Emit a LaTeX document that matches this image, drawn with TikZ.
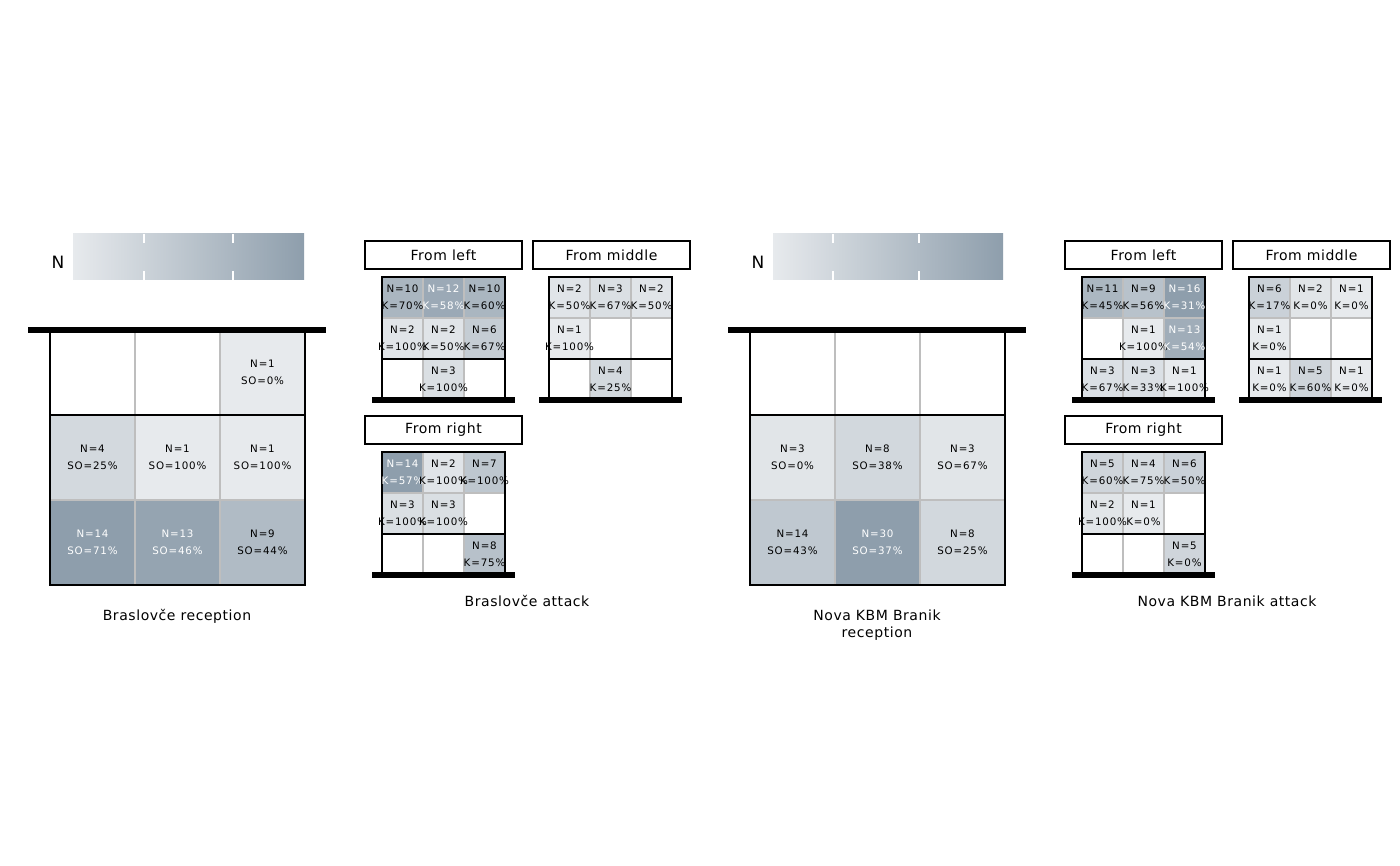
\documentclass[tikz,border=0pt]{standalone}
\usepackage{fontspec}
\setmainfont{DejaVu Sans}
\newfontfamily\cellfont{DejaVu Sans}[LetterSpace=8]
\newfontfamily\labelfont{DejaVu Sans}[LetterSpace=4]
\definecolor{lo}{HTML}{E7EAED}
\definecolor{hi}{HTML}{8E9EAC}
\definecolor{gridgray}{HTML}{BEBEBE}
\pgfdeclarelayer{front}
\pgfsetlayers{main,front}

% one zone of a court: name, col, row, size, shade, two lines of text
\newcommand{\cell}[7]{%
  \ifnum#5>74 \def\celltext{white}\else\def\celltext{black}\fi
  \node[zone, minimum size=#4, fill=hi!#5!lo] (#1) at ({(#2+.5)*#4},{(#3+.5)*#4}) {};
  \begin{pgfonlayer}{front}
    \node[zonetext, text=\celltext] (#1t) at (#1) {#6\\#7};
  \end{pgfonlayer}}
\newcommand{\attacklines}{%
  \draw[gridline] (41,0) -- (41,123) (82,0) -- (82,123) (0,41) -- (123,41);
  \draw[courtline] (0,123) -- (0,0) -- (123,0) -- (123,123) (0,82) -- (123,82);
  \draw[net] (-10,123) -- (133,123);}
\newcommand{\receptionlines}{%
  \draw[gridline] (85,0) -- (85,255) (170,0) -- (170,255) (0,170) -- (255,170);
  \draw[courtline] (0,0) -- (0,255) -- (255,255) -- (255,0) (0,85) -- (255,85);
  \draw[net] (-22,0) -- (276,0);}

\begin{document}
\begin{tikzpicture}[x=1pt,y=-1pt]
  \tikzstyle{zone}=[inner sep=0pt,outer sep=0pt,draw=none]
  \tikzstyle{zonetext}=[inner sep=0pt,align=center,font=\cellfont\fontsize{10.3}{17}\selectfont]
  \tikzstyle{gridline}=[draw=gridgray,line width=1.4pt]
  \tikzstyle{courtline}=[draw=black,line width=1.4pt]
  \tikzstyle{net}=[draw=black,line width=6pt]
  \tikzstyle{titlebox}=[draw=black,line width=1.2pt,minimum width=157pt,minimum height=28pt,inner sep=0pt,font=\labelfont\fontsize{14}{16}\selectfont]
  \tikzstyle{caption}=[align=center,font=\labelfont\fontsize{14}{17}\selectfont]
  \tikzstyle{tick}=[draw=white,line width=1.2pt]
  \fill[white] (0,0) rectangle (1400,866);
  \useasboundingbox (0,0) rectangle (1400,866);

  % legends
  \begin{scope}[shift={(73,234)}]
    \shade[left color=lo,right color=hi] (0,0) rectangle (231,46);
    \draw[tick] (71,0) -- (71,9) (71,37) -- (71,46) (160,0) -- (160,9) (160,37) -- (160,46);
    \node[font=\fontsize{17}{20}\selectfont] (brN) at (-15,28) {N};
  \end{scope}
  \begin{scope}[shift={(773,234)}]
    \shade[left color=lo,right color=hi] (0,0) rectangle (230,46);
    \draw[tick] (60,0) -- (60,9) (60,37) -- (60,46) (146,0) -- (146,9) (146,37) -- (146,46);
    \node[font=\fontsize{17}{20}\selectfont] (nkN) at (-15,28) {N};
  \end{scope}

  % Braslovce reception
  \begin{scope}[shift={(50,330)}]
    \cell{brR02}{2}{0}{85}{0}{N=1}{SO=0\%}
    \cell{brR10}{0}{1}{85}{23}{N=4}{SO=25\%}
    \cell{brR11}{1}{1}{85}{0}{N=1}{SO=100\%}
    \cell{brR12}{2}{1}{85}{0}{N=1}{SO=100\%}
    \cell{brR20}{0}{2}{85}{100}{N=14}{SO=71\%}
    \cell{brR21}{1}{2}{85}{92}{N=13}{SO=46\%}
    \cell{brR22}{2}{2}{85}{62}{N=9}{SO=44\%}
    \receptionlines
  \end{scope}
  \node[caption] (brRcap) at (177,616) {Braslovče reception};

  % Braslovce attack
  \node[titlebox] (brALtitle) at (443.5,255) {From left};
  \begin{scope}[shift={(382,277)}]
    \cell{brAL00}{0}{0}{41}{69}{N=10}{K=70\%}
    \cell{brAL01}{1}{0}{41}{85}{N=12}{K=58\%}
    \cell{brAL02}{2}{0}{41}{69}{N=10}{K=60\%}
    \cell{brAL10}{0}{1}{41}{8}{N=2}{K=100\%}
    \cell{brAL11}{1}{1}{41}{8}{N=2}{K=50\%}
    \cell{brAL12}{2}{1}{41}{38}{N=6}{K=67\%}
    \cell{brAL21}{1}{2}{41}{15}{N=3}{K=100\%}
    \attacklines
  \end{scope}
  \node[titlebox] (brAMtitle) at (611.5,255) {From middle};
  \begin{scope}[shift={(549,277)}]
    \cell{brAM00}{0}{0}{41}{8}{N=2}{K=50\%}
    \cell{brAM01}{1}{0}{41}{15}{N=3}{K=67\%}
    \cell{brAM02}{2}{0}{41}{8}{N=2}{K=50\%}
    \cell{brAM10}{0}{1}{41}{0}{N=1}{K=100\%}
    \cell{brAM21}{1}{2}{41}{23}{N=4}{K=25\%}
    \attacklines
  \end{scope}
  \node[titlebox] (brARtitle) at (443.5,430) {From right};
  \begin{scope}[shift={(382,452)}]
    \cell{brAR00}{0}{0}{41}{100}{N=14}{K=57\%}
    \cell{brAR01}{1}{0}{41}{8}{N=2}{K=100\%}
    \cell{brAR02}{2}{0}{41}{46}{N=7}{K=100\%}
    \cell{brAR10}{0}{1}{41}{15}{N=3}{K=100\%}
    \cell{brAR11}{1}{1}{41}{15}{N=3}{K=100\%}
    \cell{brAR22}{2}{2}{41}{54}{N=8}{K=75\%}
    \attacklines
  \end{scope}
  \node[caption] (brAcap) at (527,601) {Braslovče attack};

  % Nova KBM Branik reception
  \begin{scope}[shift={(750,330)}]
    \cell{nkR10}{0}{1}{85}{7}{N=3}{SO=0\%}
    \cell{nkR11}{1}{1}{85}{24}{N=8}{SO=38\%}
    \cell{nkR12}{2}{1}{85}{7}{N=3}{SO=67\%}
    \cell{nkR20}{0}{2}{85}{45}{N=14}{SO=43\%}
    \cell{nkR21}{1}{2}{85}{100}{N=30}{SO=37\%}
    \cell{nkR22}{2}{2}{85}{24}{N=8}{SO=25\%}
    \receptionlines
  \end{scope}
  \node[caption] (nkRcap) at (877,625) {Nova KBM Branik\\reception};

  % Nova KBM Branik attack
  \node[titlebox] (nkALtitle) at (1143.5,255) {From left};
  \begin{scope}[shift={(1082,277)}]
    \cell{nkAL00}{0}{0}{41}{67}{N=11}{K=45\%}
    \cell{nkAL01}{1}{0}{41}{53}{N=9}{K=56\%}
    \cell{nkAL02}{2}{0}{41}{100}{N=16}{K=31\%}
    \cell{nkAL11}{1}{1}{41}{0}{N=1}{K=100\%}
    \cell{nkAL12}{2}{1}{41}{80}{N=13}{K=54\%}
    \cell{nkAL20}{0}{2}{41}{13}{N=3}{K=67\%}
    \cell{nkAL21}{1}{2}{41}{13}{N=3}{K=33\%}
    \cell{nkAL22}{2}{2}{41}{0}{N=1}{K=100\%}
    \attacklines
  \end{scope}
  \node[titlebox] (nkAMtitle) at (1311.5,255) {From middle};
  \begin{scope}[shift={(1249,277)}]
    \cell{nkAM00}{0}{0}{41}{33}{N=6}{K=17\%}
    \cell{nkAM01}{1}{0}{41}{7}{N=2}{K=0\%}
    \cell{nkAM02}{2}{0}{41}{0}{N=1}{K=0\%}
    \cell{nkAM10}{0}{1}{41}{0}{N=1}{K=0\%}
    \cell{nkAM20}{0}{2}{41}{0}{N=1}{K=0\%}
    \cell{nkAM21}{1}{2}{41}{27}{N=5}{K=60\%}
    \cell{nkAM22}{2}{2}{41}{0}{N=1}{K=0\%}
    \attacklines
  \end{scope}
  \node[titlebox] (nkARtitle) at (1143.5,430) {From right};
  \begin{scope}[shift={(1082,452)}]
    \cell{nkAR00}{0}{0}{41}{27}{N=5}{K=60\%}
    \cell{nkAR01}{1}{0}{41}{20}{N=4}{K=75\%}
    \cell{nkAR02}{2}{0}{41}{33}{N=6}{K=50\%}
    \cell{nkAR10}{0}{1}{41}{7}{N=2}{K=100\%}
    \cell{nkAR11}{1}{1}{41}{0}{N=1}{K=0\%}
    \cell{nkAR22}{2}{2}{41}{27}{N=5}{K=0\%}
    \attacklines
  \end{scope}
  \node[caption] (nkAcap) at (1227,601) {Nova KBM Branik attack};
\end{tikzpicture}
\end{document}
